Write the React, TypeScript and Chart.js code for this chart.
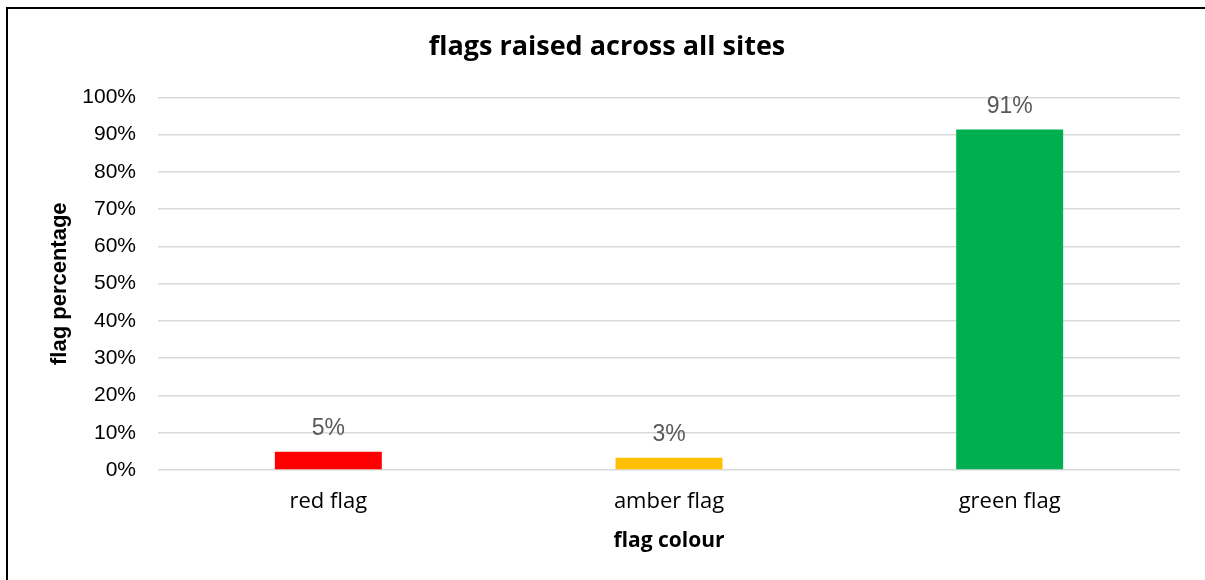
import React, { useEffect, useRef } from "react";
import { Chart, registerables } from "chart.js";

Chart.register(...registerables);

const categories = ["red flag", "amber flag", "green flag"];
const flagPercent = [4.9, 3.3, 91.4];
const barColors = ["#ff0000", "#ffc000", "#00b050"];
const yTicks = [0, 10, 20, 30, 40, 50, 60, 70, 80, 90, 100];

const SANS = "'Liberation Sans', Arial, sans-serif";
const APTOS = "'Open Sans', 'Noto Sans', sans-serif";

const dataLabelPlugin = {
  id: "dataLabels",
  afterDatasetsDraw(chart: any) {
    const { ctx } = chart;
    const meta = chart.getDatasetMeta(0);
    ctx.save();
    ctx.font = `23px ${SANS}`;
    ctx.fillStyle = "#595959";
    ctx.textAlign = "center";
    ctx.textBaseline = "middle";
    meta.data.forEach((bar: any, i: number) => {
      const v = chart.data.datasets[0].data[i] as number;
      ctx.fillText(`${Math.round(v)}%`, bar.x, bar.y - 23);
    });
    ctx.restore();
  },
};

export default function App() {
  const ref = useRef<HTMLCanvasElement | null>(null);
  useEffect(() => {
    if (!ref.current) return;
    const chart = new Chart(ref.current, {
      type: "bar",
      data: {
        labels: categories,
        datasets: [
          {
            data: flagPercent,
            backgroundColor: barColors,
            borderWidth: 0,
            barPercentage: 1,
            categoryPercentage: 0.314,
          },
        ],
      },
      options: {
        animation: false,
        responsive: false,
        maintainAspectRatio: false,
        layout: { padding: { left: 34, right: 25, top: 0, bottom: 0 } },
        plugins: {
          legend: { display: false },
          tooltip: { enabled: false },
          title: {
            display: true,
            text: "flags raised across all sites",
            color: "#000000",
            font: { family: APTOS, size: 27, weight: "bold", lineHeight: 1.2 },
            padding: { top: 31, bottom: 34 },
          },
        },
        scales: {
          x: {
            grid: { display: false, drawTicks: false },
            border: { display: false },
            ticks: {
              color: "#000000",
              font: { family: APTOS, size: 22 },
              padding: 19,
            },
            title: {
              display: true,
              text: "flag colour",
              color: "#000000",
              font: { family: APTOS, size: 21, weight: "bold", lineHeight: 1.2 },
              padding: { top: 0, bottom: 26 },
            },
            afterFit(scale: any) {
              scale.height = 110;
            },
          },
          y: {
            min: 0,
            max: 100,
            afterBuildTicks(scale: any) {
              scale.ticks = yTicks.map((v) => ({ value: v }));
            },
            grid: { color: "#d9d9d9", lineWidth: 1.5, drawTicks: false },
            border: { display: false },
            ticks: {
              color: "#000000",
              font: { family: SANS, size: 21 },
              padding: 22,
              callback: (v: any) => `${v}%`,
            },
            title: {
              display: true,
              text: "flag percentage",
              color: "#000000",
              font: { family: SANS, size: 22, weight: "bold", lineHeight: 1.2 },
              padding: { top: 13, bottom: 0 },
            },
            afterFit(scale: any) {
              scale.width = 124;
            },
          },
        },
      },
      plugins: [dataLabelPlugin],
    });
    return () => chart.destroy();
  }, []);

  return (
    <div style={{ position: "absolute", left: 0, top: 0, width: 1205, height: 580, background: "#fff", overflow: "hidden" }}>
      <canvas ref={ref} width={1205} height={580} style={{ position: "absolute", left: 0, top: 0, width: 1205, height: 580 }} />
      <div
        style={{
          position: "absolute",
          left: 6,
          top: 7,
          width: 1205,
          height: 580,
          borderTop: "2px solid #000",
          borderLeft: "2px solid #000",
          pointerEvents: "none",
        }}
      />
    </div>
  );
}
